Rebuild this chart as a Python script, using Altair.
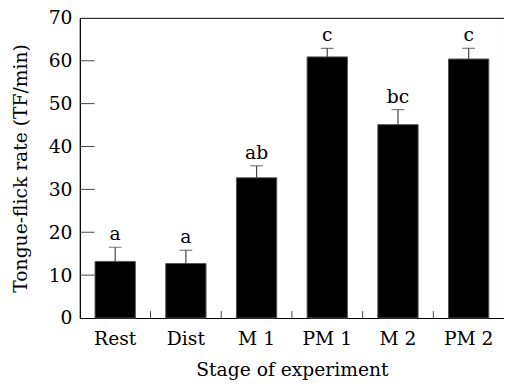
import altair as alt
import pandas as pd

stages = ["Rest", "Dist", "M 1", "PM 1", "M 2", "PM 2"]
means = [13.2, 12.7, 32.7, 60.9, 45.1, 60.4]
sems = [3.3, 3.1, 2.8, 2.0, 3.5, 2.5]
letters = ["a", "a", "ab", "c", "bc", "c"]
y_ticks = [10, 20, 30, 40, 50, 60]

df = pd.DataFrame({
    "stage": stages,
    "mean": means,
    "upper": [m + s for m, s in zip(means, sems)],
    "letter": letters,
})
ytick_df = pd.DataFrame({"v": y_ticks})
xtick_df = pd.DataFrame({"stage": stages[1:]})

FONT = "DejaVu Serif"
FS = 19
W, H = 431, 305

xscale = alt.Scale(domain=stages, paddingInner=0.43, paddingOuter=0.215)
yscale = alt.Scale(domain=[0, 70], nice=False)

x_enc = alt.X("stage:N", scale=xscale, sort=stages,
              axis=alt.Axis(title="Stage of experiment", labelAngle=0, ticks=False,
                            labelPadding=12, titlePadding=12))
y_enc = alt.Y("mean:Q", scale=yscale,
              axis=alt.Axis(title="Tongue-flick rate (TF/min)", values=list(range(0, 71, 10)),
                            ticks=False, labelPadding=8, titlePadding=18, grid=False))

base = alt.Chart(df)
bars = base.mark_bar(color="black", stroke="#555", strokeWidth=1).encode(x=x_enc, y=y_enc)
err = base.mark_rule(color="#444", strokeWidth=1.2).encode(
    x=alt.X("stage:N", scale=xscale, sort=stages),
    y=alt.Y("mean:Q", scale=yscale), y2="upper:Q")
caps = base.mark_tick(color="#444", size=13, thickness=1.2, orient="horizontal").encode(
    x=alt.X("stage:N", scale=xscale, sort=stages),
    y=alt.Y("upper:Q", scale=yscale))
txt = base.mark_text(font=FONT, fontSize=FS, color="black", baseline="alphabetic", dy=-7).encode(
    x=alt.X("stage:N", scale=xscale, sort=stages),
    y=alt.Y("upper:Q", scale=yscale), text="letter:N")
yt = alt.Chart(ytick_df).mark_rule(color="#444", strokeWidth=1).encode(
    x=alt.value(0), x2=alt.value(15), y=alt.Y("v:Q", scale=yscale))
xt = alt.Chart(xtick_df).mark_rule(color="#444", strokeWidth=1, xOffset=-W / 12).encode(
    x=alt.X("stage:N", scale=xscale, sort=stages), y=alt.value(H), y2=alt.value(H - 7))

chart = alt.layer(bars, err, caps, txt, yt, xt).properties(
    width=W, height=H,
    autosize=alt.AutoSizeParams(type="none"),
    padding={"left": 73, "top": 7, "right": 0, "bottom": 62},
).configure_view(stroke="black", strokeWidth=1).configure_axis(
    labelFont=FONT, titleFont=FONT, labelFontSize=FS, titleFontSize=FS,
    labelColor="black", titleColor="black", titleFontWeight="normal",
    domainColor="black", domain=True,
)

chart.save("out.html", embed_options={"renderer": "svg", "actions": False})
